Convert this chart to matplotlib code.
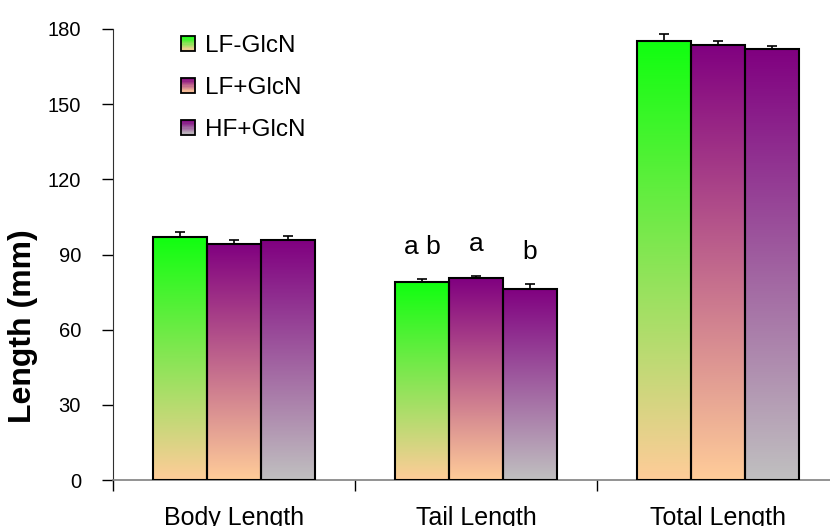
import numpy as np
import matplotlib
matplotlib.use('Agg')
import matplotlib.pyplot as plt
from matplotlib.colors import to_rgb
from matplotlib.patches import Patch, Rectangle
from matplotlib.legend_handler import HandlerBase

plt.rcParams['font.family'] = ['Liberation Sans', 'DejaVu Sans']

categories = ['Body Length', 'Tail Length', 'Total Length']
groups = ['LF-GlcN', 'LF+GlcN', 'HF+GlcN']
means = [
    [97.1, 79.0, 175.3],   # LF-GlcN
    [94.2, 80.5, 173.8],   # LF+GlcN
    [95.6, 76.3, 172.1],   # HF+GlcN
]
errors = [
    [1.7, 1.3, 2.6],
    [1.4, 0.9, 1.6],
    [1.6, 1.9, 1.1],
]
# significance letters above the tail length bars
letters = ['a b', 'a', 'b']

# gradient colours (top, bottom)
grad_colors = [
    ('#10ff10', '#ffcc99'),
    ('#800080', '#ffcc99'),
    ('#800080', '#c0c0c0'),
]


def gradient_image(top, bottom, n=256):
    c1 = np.array(to_rgb(top))
    c2 = np.array(to_rgb(bottom))
    t = np.linspace(0, 1, n)[:, None]
    img = c1 * (1 - t) + c2 * t
    return img[:, None, :]


class GradHandler(HandlerBase):
    def __init__(self, top, bottom):
        super().__init__()
        self.top = np.array(to_rgb(top))
        self.bottom = np.array(to_rgb(bottom))

    def create_artists(self, legend, orig_handle, xdescent, ydescent,
                       width, height, fontsize, trans):
        n = 12
        arts = []
        for k in range(n):
            t = k / (n - 1)
            col = self.bottom * (1 - t) + self.top * t
            arts.append(Rectangle((-xdescent, -ydescent + height * k / n), width, height / n,
                                  facecolor=col, edgecolor='none', transform=trans))
        arts.append(Rectangle((-xdescent, -ydescent), width, height, fill=False,
                              edgecolor='black', lw=1.3, transform=trans))
        return arts


fig = plt.figure(figsize=(8.3, 5.26), dpi=100)
ax = fig.add_axes([113 / 830, 1 - 480 / 526, 726 / 830, 451 / 526])

x = np.arange(len(categories))
w = 0.223
for j, g in enumerate(groups):
    pos = x + (j - 1) * w
    bars = ax.bar(pos, means[j], w, facecolor='none', edgecolor='black', lw=1.5, zorder=3)
    img = gradient_image(*grad_colors[j])
    for b in bars:
        im = ax.imshow(img, extent=[b.get_x(), b.get_x() + b.get_width(), 0, b.get_height()],
                       aspect='auto', origin='upper', zorder=2, interpolation='bilinear')
        im.set_clip_path(b)
    ax.errorbar(pos, means[j], yerr=[np.zeros(len(categories)), errors[j]], fmt='none',
                ecolor='black', elinewidth=1.2, capsize=3.8, capthick=1.2, zorder=4)
    # letters over tail length
    ax.text(pos[1], means[j][1] + errors[j][1] + 10, letters[j], ha='center', va='baseline',
            fontsize=19)

ax.set_xlim(-0.5, 2.5)
ax.set_ylim(0, 180)
ax.set_yticks(np.arange(0, 181, 30))
ax.set_xticks(x)
ax.set_xticklabels(categories, fontsize=18)
ax.set_xticks([-0.5, 0.5, 1.5, 2.5], minor=True)
ax.tick_params(axis='x', which='major', length=0, pad=19)
ax.tick_params(axis='x', which='minor', length=8, width=1, direction='out')
ax.tick_params(axis='y', length=8, width=1, direction='out', labelsize=14.5, pad=15)

for s in ['top', 'right']:
    ax.spines[s].set_visible(False)
ax.spines['left'].set_color('#303030')
ax.spines['bottom'].set_color('#808080')
ax.spines['bottom'].set_linewidth(1.2)

fig.text(23 / 830, 1 - 326 / 526, 'Length (mm)', rotation=90, fontsize=23,
         fontweight='bold', ha='center', va='center')

handles = [Patch(label=g) for g in groups]
hmap = {h: GradHandler(*grad_colors[i]) for i, h in enumerate(handles)}
ax.legend(handles=handles, handler_map=hmap, loc='upper left',
          bbox_to_anchor=(181 / 830, 1 - 35 / 526), bbox_transform=fig.transFigure,
          frameon=False, fontsize=17.5, handlelength=0.58, handleheight=0.58,
          handletextpad=0.4, labelspacing=0.82, borderpad=0, borderaxespad=0)

fig.savefig('out.png', dpi=100)
